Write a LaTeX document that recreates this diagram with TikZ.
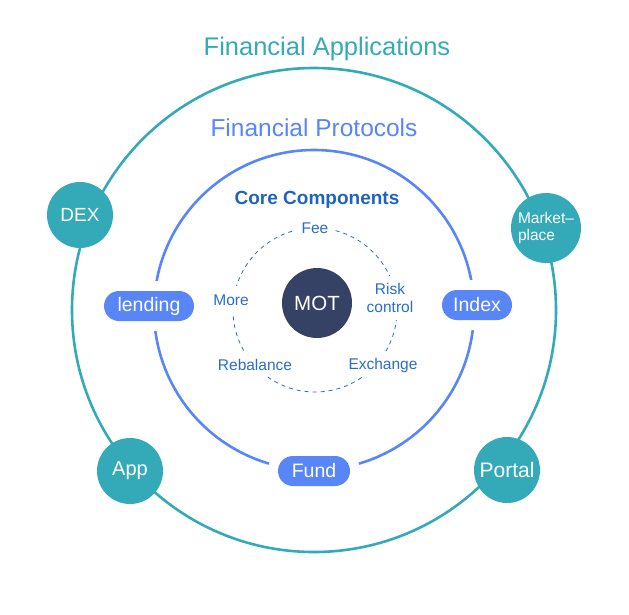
\documentclass[tikz,border=0pt]{standalone}
\usepackage{fontspec}
\setmainfont{Liberation Sans}
\definecolor{teal1}{RGB}{52,170,185}
\definecolor{blue1}{RGB}{88,134,247}
\definecolor{core}{RGB}{30,100,190}
\definecolor{lbl}{RGB}{40,110,200}
\definecolor{mot}{RGB}{54,66,101}
\tikzset{
  appnode/.style={circle,fill=teal1,text=white,minimum size=66pt,inner sep=0pt,font=\fontsize{19}{21}\selectfont},
  pill/.style={rounded corners=15pt,fill=blue1,text=white,minimum height=30pt,inner sep=0pt,
     font=\fontsize{19.5}{21}\selectfont,preaction={draw=white,line width=20pt}},
  comp/.style={fill=white,text=lbl,inner sep=7pt,align=center,font=\fontsize{15.5}{18}\selectfont},
}
\begin{document}
\begin{tikzpicture}[x=1pt,y=-1pt]
\useasboundingbox (0,0) rectangle (629,614);
% circles
\coordinate (oc) at (314,310);
\coordinate (dc) at (315,310);
\draw[teal1,line width=2.6pt] (oc) circle[radius=242pt];
\draw[blue1,line width=2.6pt] (oc) circle[radius=160pt];
\draw[lbl,line width=0.8pt,dash pattern=on 4pt off 4pt] (dc) circle[radius=82pt];
% titles
\node[text=teal1,font=\fontsize{25.5}{27}\selectfont] (fa) at (327,49) {Financial Applications};
\node[text=blue1,font=\fontsize{24.5}{26}\selectfont] (fp) at (314,128) {Financial Protocols};
\node[text=core,font=\bfseries\fontsize{19}{21}\selectfont] (cc) at (317,200) {Core Components};
% outer nodes
\node[appnode] (dex) at (80,215) {DEX};
\node[appnode,minimum size=70pt,align=left,font=\fontsize{15.5}{17}\selectfont] (mkt) at (546,228) {Market–\\place};
\node[appnode,font=\fontsize{20}{22}\selectfont] (app) at (130,471) {App};
\node[appnode,font=\fontsize{21}{23}\selectfont] (portal) at (507,470) {Portal};
% pills
\node[pill,minimum width=90pt] (lend) at (149,306) {lending};
\node[pill,minimum width=70pt] (idx) at (477,305) {Index};
\node[pill,minimum width=72pt] (fund) at (314,471) {Fund};
% core components
\node[comp] (fee) at (315,228) {Fee};
\node[comp] (risk) at (390,298) {Risk\\control};
\node[comp,inner sep=9pt] (more) at (231,300) {More};
\node[comp,inner sep=5pt] (reb) at (255,365) {Rebalance};
\node[comp,inner sep=5pt] (exch) at (383,365) {Exchange};
\node[circle,fill=mot,text=white,minimum size=70pt,inner sep=0pt,font=\fontsize{20.5}{22}\selectfont] (motn) at (317,303) {MOT};
\end{tikzpicture}
\end{document}
